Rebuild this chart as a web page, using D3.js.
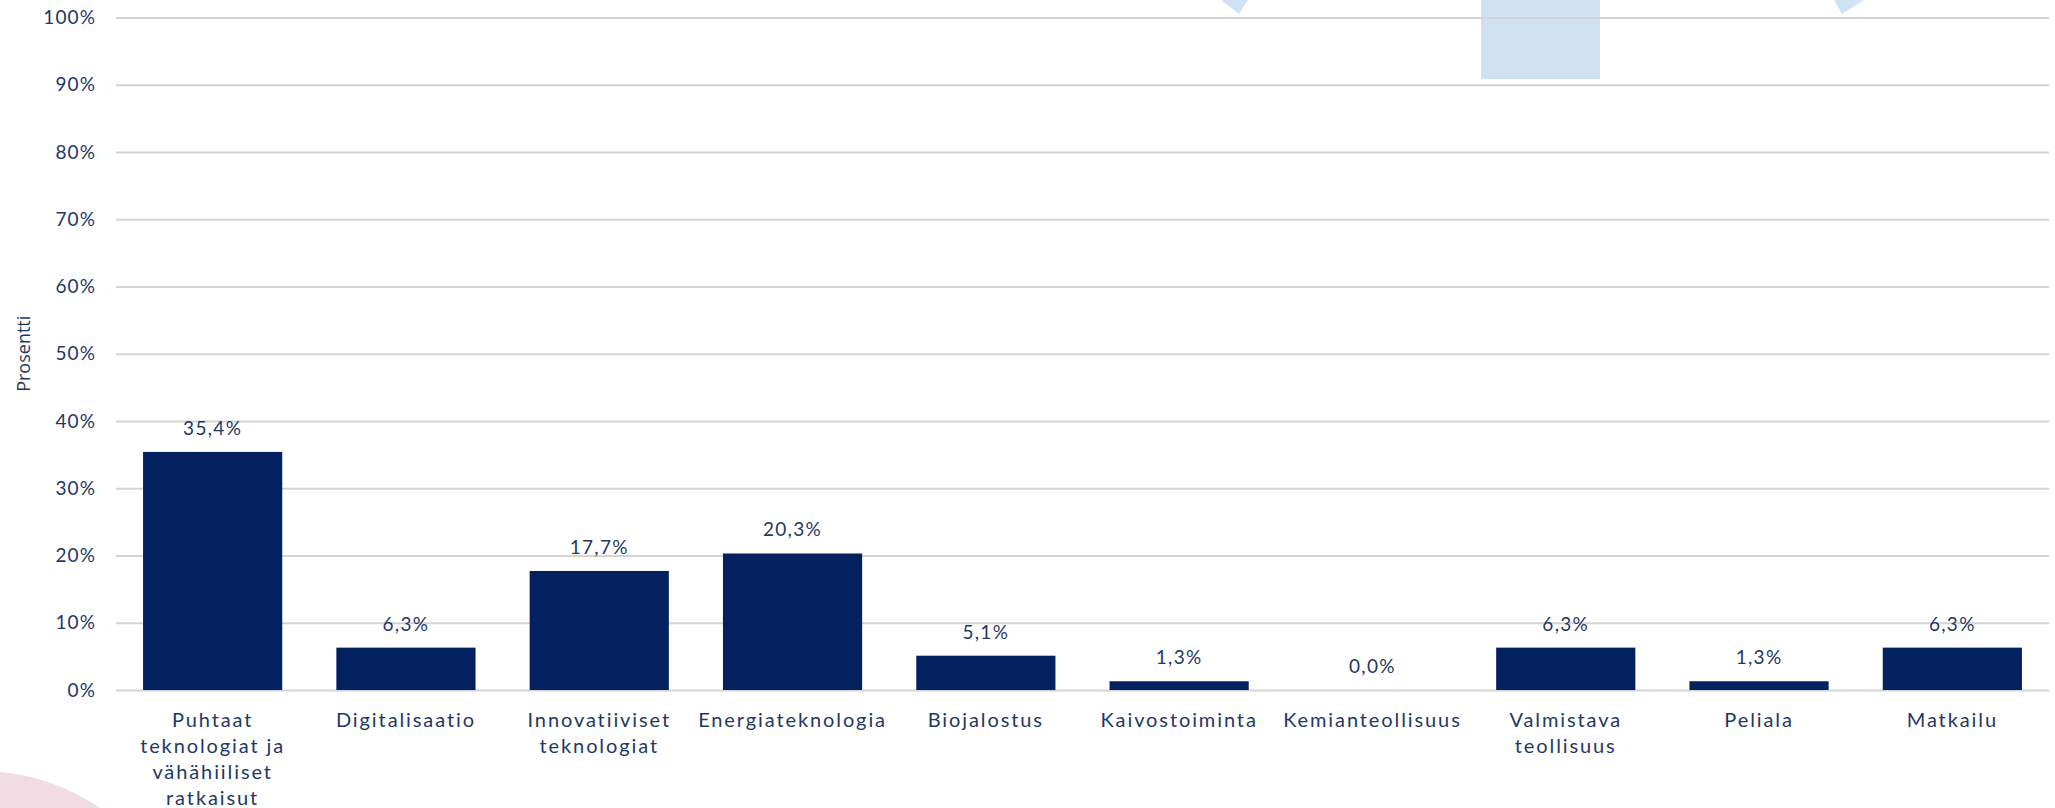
<!DOCTYPE html>
<html>
<head>
<meta charset="utf-8">
<script src="https://cdn.jsdelivr.net/npm/d3@7"></script>
<style>
  html, body { margin: 0; padding: 0; background: #fff; }
  svg text { font-family: Lato, "Open Sans", sans-serif; }
</style>
</head>
<body>
<div id="chart"></div>
<script>
// categories (line breaks as in the original labels)
const categories = [
    "Puhtaat\nteknologiat ja\nvähähiiliset\nratkaisut",
    "Digitalisaatio",
    "Innovatiiviset\nteknologiat",
    "Energiateknologia",
    "Biojalostus",
    "Kaivostoiminta",
    "Kemianteollisuus",
    "Valmistava\nteollisuus",
    "Peliala",
    "Matkailu"
];
const values = [35.4, 6.3, 17.7, 20.3, 5.1, 1.3, 0.0, 6.3, 1.3, 6.3];
const yTicks = [0, 10, 20, 30, 40, 50, 60, 70, 80, 90, 100];
const yLabel = "Prosentti";

const W = 2055, H = 808;
const margin = { top: 17.5, right: 6, bottom: 118, left: 116 };
const navy = '#1f3864';
const barColor = '#03205f';

const svg = d3.select('#chart')
    .append('svg')
    .attr('width', W)
    .attr('height', H);

// background decoration of the slide
const deco = svg.append('g');
deco.append('circle')
    .attr('cx', -20).attr('cy', 984).attr('r', 213)
    .attr('fill', '#f0dce2');
deco.append('rect')
    .attr('x', 1481).attr('y', 0).attr('width', 119).attr('height', 79)
    .attr('fill', '#cfe2f3');
deco.append('polygon')
    .attr('points', '1221,0 1248,0 1239,14')
    .attr('fill', '#cfe2f3');
deco.append('polygon')
    .attr('points', '1834,0 1864,0 1842,14')
    .attr('fill', '#cfe2f3');

const x = d3.scaleBand()
    .domain(categories)
    .range([margin.left, W - margin.right])
    .paddingInner(0.28)
    .paddingOuter(0.14);

const y = d3.scaleLinear()
    .domain([0, 100])
    .range([H - margin.bottom, margin.top]);

// y axis + gridlines
const yAxis = svg.append('g')
    .attr('transform', `translate(${ margin.left }, 0)`)
    .call(d3.axisLeft(y)
        .tickValues(yTicks)
        .tickSize(-(W - margin.left - margin.right))
        .tickPadding(20)
        .tickFormat(d => d + '%'));

yAxis.select('.domain').remove();
yAxis.selectAll('.tick line')
    .attr('stroke', '#d4d4d4')
    .attr('stroke-width', 2);
yAxis.selectAll('.tick text')
    .attr('fill', navy)
    .attr('font-size', 19)
    .attr('letter-spacing', 1.1);

// axis title
svg.append('text')
    .attr('transform', `translate(30, ${ (y(0) + y(100)) / 2 }) rotate(-90)`)
    .attr('text-anchor', 'middle')
    .attr('fill', navy)
    .attr('font-size', 18)
    .style('font-family', '"Open Sans", sans-serif')
    .text(yLabel);

// bars
svg.append('g')
    .selectAll('rect')
    .data(values)
    .join('rect')
    .attr('x', (d, i) => x(categories[i]))
    .attr('y', d => y(d))
    .attr('width', x.bandwidth())
    .attr('height', d => y(0) - y(d))
    .attr('fill', barColor);

// value labels
svg.append('g')
    .selectAll('text')
    .data(values)
    .join('text')
    .attr('x', (d, i) => x(categories[i]) + x.bandwidth() / 2)
    .attr('y', d => y(d) - 17)
    .attr('text-anchor', 'middle')
    .attr('fill', navy)
    .attr('font-size', 19)
    .attr('letter-spacing', 1.3)
    .text(d => d.toFixed(1).replace('.', ',') + '%');

// category labels
const catLabels = svg.append('g')
    .selectAll('text')
    .data(categories)
    .join('text')
    .attr('x', d => x(d) + x.bandwidth() / 2)
    .attr('y', y(0) + 37)
    .attr('text-anchor', 'middle')
    .attr('fill', navy)
    .attr('font-size', 20)
    .attr('letter-spacing', 1.9);

catLabels.selectAll('tspan')
    .data(d => d.split('\n'))
    .join('tspan')
    .attr('x', function() { return this.parentNode.getAttribute('x'); })
    .attr('dy', (d, i) => i === 0 ? 0 : 26)
    .text(d => d);
</script>
</body>
</html>
